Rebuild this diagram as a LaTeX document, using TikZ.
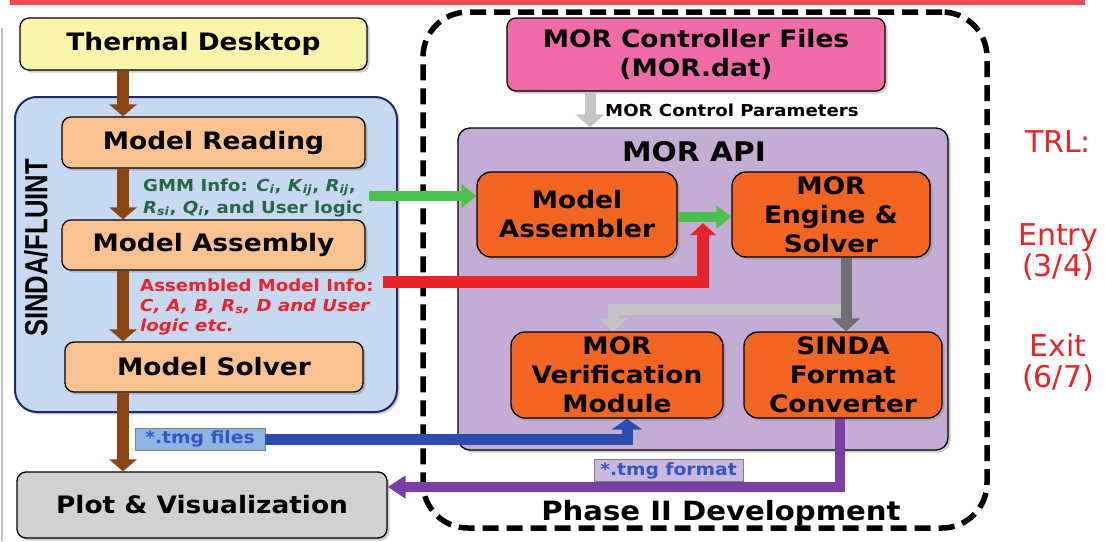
\documentclass[tikz,border=0pt]{standalone}
\usepackage{fontspec}
\usetikzlibrary{arrows.meta,shadows}
\newfontfamily\bx[FakeStretch=1.1]{DejaVu Sans}
\newfontfamily\nar[FakeStretch=0.8]{Liberation Sans}
\newfontfamily\trlf{DejaVu Sans}
\newcommand{\myv}[2]{\textit{#1}\textsubscript{\textit{#2}}}
\definecolor{redbar}{HTML}{EE4A52}
\definecolor{tdyellow}{HTML}{F8F5AB}
\definecolor{sindablue}{HTML}{C6D9F0}
\definecolor{navy}{HTML}{1C2A6B}
\definecolor{peach}{HTML}{FAC191}
\definecolor{plotgrey}{HTML}{D2D0D0}
\definecolor{pinkc}{HTML}{F06BA7}
\definecolor{lav}{HTML}{C3ADD5}
\definecolor{orangec}{HTML}{F26522}
\definecolor{brownc}{HTML}{8B4513}
\definecolor{greenc}{HTML}{4CC04C}
\definecolor{redc}{HTML}{E8232B}
\definecolor{gmmgreen}{HTML}{276749}
\definecolor{bluec}{HTML}{2C4DAF}
\definecolor{purplec}{HTML}{7B3FA6}
\definecolor{tagblue}{HTML}{8EB4E3}
\definecolor{taglav}{HTML}{CBB8E0}
\definecolor{tmgtext}{HTML}{3457C0}
\definecolor{lgrey}{HTML}{C4C4C4}
\definecolor{dgrey}{HTML}{707070}
\begin{document}
\begin{tikzpicture}[x=1pt,y=-1pt,
  box/.style={draw=black, line width=1.3pt, rounded corners=9pt, align=center, inner sep=0pt,
    font=\bx\bfseries\fontsize{24}{29}\selectfont,
    drop shadow={shadow xshift=2.5pt,shadow yshift=-2.5pt,opacity=0.4}},
  midtext/.style={anchor=base west, inner sep=0pt, font=\bx\bfseries\fontsize{16.5}{20}\selectfont},
  tag/.style={draw=gray, line width=0.8pt, inner sep=0pt, minimum height=22pt,
    font=\bx\bfseries\fontsize{17}{20}\selectfont, text=tmgtext},
  brownarr/.style={draw=brownc, line width=12pt, -{Triangle[width=27pt,length=12pt]}},
  greenarr/.style={draw=greenc, line width=10pt, -{Triangle[width=23pt,length=15pt]}},
  redarr/.style={draw=redc, line width=12pt, line join=miter, -{Triangle[width=25pt,length=12pt]}},
  lgreyarr/.style={draw=lgrey, line width=11pt, line join=miter, -{Triangle[width=28pt,length=13pt]}},
  dgreyarr/.style={draw=dgrey, line width=11pt, -{Triangle[width=28pt,length=13pt]}},
  bluearr/.style={draw=bluec, line width=11pt, line join=miter, -{Triangle[width=30pt,length=11pt]}},
  purparr/.style={draw=purplec, line width=10pt, line join=miter, -{Triangle[width=22pt,length=18pt]}},
  trl/.style={text=redc, align=center, inner sep=0pt, font=\trlf\fontsize{30}{31}\selectfont}
]
\useasboundingbox (0,0) rectangle (1105,541);
\fill[white] (0,0) rectangle (1105,541);
% top bar and side line
\fill[redbar] (10,0) rectangle (1085,5);
\draw[gray!50, line width=2pt] (1.5,28) -- (1.5,541);

% Phase II frame
\node[draw=black, line width=5.5pt, dash pattern=on 16pt off 8pt, rounded corners=45pt,
  minimum width=564pt, minimum height=516pt, inner sep=0pt] (dev) at (705,270) {};
\node[font=\bx\bfseries\fontsize{26.5}{30}\selectfont, inner sep=0pt] (ph) at (721,513) {Phase II Development};

% SINDA/FLUINT container
\node[draw=navy, line width=2pt, fill=sindablue, rounded corners=22pt, minimum width=382pt,
  minimum height=315pt, inner sep=0pt,
  drop shadow={shadow xshift=2.5pt,shadow yshift=-2.5pt,opacity=0.35}] (sf) at (206,254.5) {};
\node[rotate=90, inner sep=0pt, font=\nar\bfseries\fontsize{32}{32}\selectfont] (sft) at (36,248) {SINDA/FLUINT};

% left column boxes
\node[box, fill=tdyellow, minimum width=347pt, minimum height=52pt] (td) at (193.5,44) {Thermal Desktop};
\node[box, fill=peach, minimum width=303pt, minimum height=51pt] (mr) at (213.5,142.5) {Model Reading};
\node[box, fill=peach, minimum width=303pt, minimum height=50pt] (ma) at (213.5,245) {Model Assembly};
\node[box, fill=peach, minimum width=298pt, minimum height=50pt] (ms) at (214,367) {Model Solver};
\node[box, fill=plotgrey, minimum width=370pt, minimum height=66pt] (plot) at (202,505) {Plot \& Visualization};

% info texts
\node[midtext, text=gmmgreen] (gmm1) at (143,191) {GMM Info: \myv{C}{i}, \myv{K}{ij}, \myv{R}{ij},};
\node[midtext, text=gmmgreen] (gmm2) at (143,213) {\myv{R}{si}, \myv{Q}{i}, and User logic};
\node[midtext, text=redc] (red1) at (140,291) {Assembled Model Info:};
\node[midtext, text=redc] (red2) at (140,311) {\textit{C, A, B, R\textsubscript{s}, D and User}};
\node[midtext, text=redc] (red3) at (140,331) {\textit{logic etc.}};

% right side boxes
\node[box, fill=pinkc, minimum width=378pt, minimum height=73pt] (morctl) at (696,54.5) {MOR Controller Files\\(MOR.dat)};
\node[box, fill=lav, rounded corners=12pt, minimum width=490pt, minimum height=322pt] (api) at (703,289) {};
\node[inner sep=0pt, font=\bx\bfseries\fontsize{27}{30}\selectfont] (apit) at (694,152) {MOR API};
\node[box, fill=orangec, rounded corners=14pt, minimum width=200pt, minimum height=85pt] (asm) at (577,214.5) {Model\\Assembler};
\node[box, fill=orangec, rounded corners=14pt, minimum width=198pt, minimum height=85pt] (eng) at (831,214.5) {MOR\\Engine \&\\Solver};
\node[box, fill=orangec, rounded corners=14pt, minimum width=212pt, minimum height=86pt] (ver) at (617,375) {MOR\\Verification\\Module};
\node[box, fill=orangec, rounded corners=14pt, minimum width=198pt, minimum height=86pt] (conv) at (843,375) {SINDA\\Format\\Converter};

% brown arrows
\coordinate (bx) at (123,0);
\draw[brownarr] (td.south -| bx) -- (mr.north -| bx);
\draw[brownarr] (mr.south -| bx) -- (ma.north -| bx);
\draw[brownarr] (ma.south -| bx) -- (ms.north -| bx);
\draw[brownarr] (ms.south -| bx) -- (plot.north -| bx);

% green arrows
\coordinate (g0) at (369,196);
\draw[greenarr] (g0) -- (g0 -| asm.west);
\coordinate (g1) at (0,217);
\draw[greenarr] (asm.east |- g1) -- (eng.west |- g1);

% red arrow
\coordinate (r0) at (383,282);
\coordinate (r1) at (703,223);
\draw[redarr] (r0) -| (r1);

% grey arrows
\coordinate (cp) at (590,0);
\draw[lgreyarr] (morctl.south -| cp) -- (api.north -| cp);
\node[midtext, font=\bx\bfseries\fontsize{16.5}{20}\selectfont] (cpl) at (605,116) {MOR Control Parameters};
\coordinate (gx) at (846,309);
\coordinate (vx) at (613,0);
\draw[lgreyarr] (gx) -| (ver.north -| vx);
\draw[dgreyarr] (eng.south -| gx) -- (conv.north -| gx);

% blue arrow
\node[tag, fill=tagblue, minimum width=130pt] (tmgf) at (200,439) {*.tmg files};
\coordinate (bx2) at (627,0);
\draw[bluearr] (tmgf.east) -| (ver.south -| bx2);

% purple arrow
\coordinate (px) at (840,487);
\draw[purparr] (conv.south -| px) |- (plot.east |- px);
\node[tag, fill=taglav, minimum width=149pt] (tmgo) at (668.5,470.5) {*.tmg format};

% TRL
\node[trl] (trl1) at (1058,142) {TRL:};
\node[trl] (trl2) at (1058,252) {Entry\\(3/4)};
\node[trl] (trl3) at (1058,363) {Exit\\(6/7)};
\end{tikzpicture}
\end{document}
